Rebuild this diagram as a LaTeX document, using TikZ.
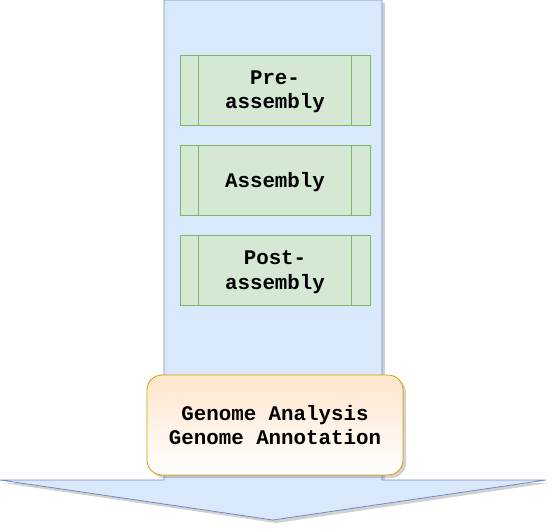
\documentclass[tikz,border=0pt]{standalone}
\usepackage{fontspec}
\setmonofont{Liberation Mono}
\usetikzlibrary{shadows}
\definecolor{arrowfill}{HTML}{DAE8FC}
\definecolor{arrowline}{HTML}{6C8EBF}
\definecolor{greenfill}{HTML}{D5E8D4}
\definecolor{greenline}{HTML}{82B366}
\definecolor{orangetop}{HTML}{FFE6CC}
\definecolor{orangeline}{HTML}{D79B00}
\tikzset{
  myshadow/.style={drop shadow={shadow xshift=3pt, shadow yshift=-3pt, opacity=0.3, fill=black!60}},
  stagebox/.style={draw=greenline, fill=greenfill, line width=0.8pt, minimum width=190pt, minimum height=70pt, inner sep=0pt},
  labeltext/.style={font=\ttfamily\bfseries\fontsize{20.8}{24.5}\selectfont, align=center, text=black},
}
\begin{document}
\begin{tikzpicture}[x=1pt,y=-1pt]
\useasboundingbox (0,0) rectangle (557,532);
% big arrow
\path[myshadow, draw=arrowline, fill=arrowfill, line width=0.8pt]
  (164,0) -- (382,0) -- (382,480) -- (546,480) -- (273,520) -- (0,480) -- (164,480) -- cycle;
% stage boxes
\foreach \n/\y/\t in {pre/90/{Pre-\\assembly}, asm/180/{Assembly}, post/270/{Post-\\assembly}} {
  \node[stagebox] (\n) at (275,\y) {};
  \draw[greenline, line width=0.8pt] ([xshift=19pt]\n.north west) -- ([xshift=19pt]\n.south west);
  \draw[greenline, line width=0.8pt] ([xshift=-19pt]\n.north east) -- ([xshift=-19pt]\n.south east);
  \node[labeltext, yshift=-2pt] (\n-label) at (\n.center) {\t};
}
% analysis box
\node[myshadow, draw=orangeline, line width=0.8pt, rounded corners=15pt, top color=orangetop, bottom color=white,
      minimum width=256pt, minimum height=100pt, labeltext] (analysis) at (275,425)
  {Genome Analysis\\Genome Annotation};
\end{tikzpicture}
\end{document}
